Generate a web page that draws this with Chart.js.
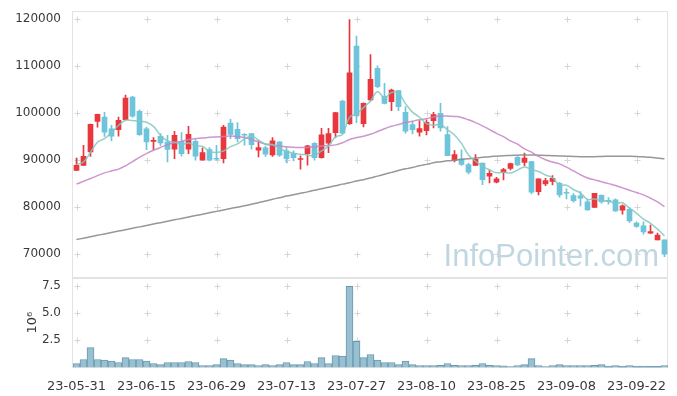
<!DOCTYPE html>
<html>
<head>
<meta charset="utf-8">
<script src="https://cdn.jsdelivr.net/npm/chart.js@4.4.1/dist/chart.umd.min.js"></script>
<style>
  html, body { margin: 0; padding: 0; background: #fff; }
  #wrap { width: 677px; height: 396px; }
</style>
</head>
<body>
<div id="wrap"><canvas id="stockChart"></canvas></div>
<script>
const dates = [
  "23-05-31","23-06-01","23-06-02","23-06-05","23-06-07","23-06-08","23-06-09","23-06-12","23-06-13","23-06-14",
  "23-06-15","23-06-16","23-06-19","23-06-20","23-06-21","23-06-22","23-06-23","23-06-26","23-06-27","23-06-28",
  "23-06-29","23-06-30","23-07-03","23-07-04","23-07-05","23-07-06","23-07-07","23-07-10","23-07-11","23-07-12",
  "23-07-13","23-07-14","23-07-17","23-07-18","23-07-19","23-07-20","23-07-21","23-07-24","23-07-25","23-07-26",
  "23-07-27","23-07-28","23-07-31","23-08-01","23-08-02","23-08-03","23-08-04","23-08-07","23-08-08","23-08-09",
  "23-08-10","23-08-11","23-08-14","23-08-16","23-08-17","23-08-18","23-08-21","23-08-22","23-08-23","23-08-24",
  "23-08-25","23-08-28","23-08-29","23-08-30","23-08-31","23-09-01","23-09-04","23-09-05","23-09-06","23-09-07",
  "23-09-08","23-09-11","23-09-12","23-09-13","23-09-14","23-09-15","23-09-18","23-09-19","23-09-20","23-09-21",
  "23-09-22","23-09-25","23-09-26","23-09-27","23-10-04"
];
const tickLabels = ["23-05-31","23-06-15","23-06-29","23-07-13","23-07-27","23-08-10","23-08-25","23-09-08","23-09-22"];
const priceTicks = [70000, 80000, 90000, 100000, 110000, 120000];
const volumeTicks = [2500000, 5000000, 7500000];

const open = [
  87740, 88800, 91630, 98150, 99070, 96590, 96380, 98500, 103310, 100270,
  96590, 93900, 94960, 93760, 92220, 93920, 92220, 93920, 89890, 92150,
  90240, 90240, 97810, 96470, 95400, 95550, 92000, 92500, 91020, 93780,
  91870, 91300, 90030, 91300, 93500, 90450, 93500, 95760, 102480, 97670,
  114160, 97670, 102700, 109430, 103480, 102350, 104690, 100080, 97470, 95840,
  96190, 98320, 99870, 95340, 89820, 90180, 88970, 88800, 89300, 86470,
  85190, 87310, 88160, 90500, 89440, 89580, 83210, 84840, 85400, 84980,
  83070, 82360, 82290, 81020, 79820, 82430, 81370, 81440, 79250, 79460,
  76490, 75920, 74370, 72950, 72950
];
const high = [
  90360, 93050, 97600, 99700, 100060, 97300, 99070, 103740, 103500, 100620,
  96940, 94680, 95530, 95170, 96040, 95760, 97100, 94270, 92500, 92570,
  93070, 97320, 98590, 97880, 95550, 95600, 93990, 92900, 94700, 93780,
  92580, 91870, 90810, 93070, 93640, 96680, 96680, 100100, 102630, 119820,
  116290, 102100, 112390, 109990, 106240, 105040, 104690, 101290, 98170, 98320,
  98460, 100080, 102000, 97040, 91950, 92090, 89270, 91070, 89300, 87810,
  86250, 88160, 89300, 90640, 91420, 89650, 85900, 86040, 86610, 85190,
  83780, 82800, 83210, 81590, 82860, 82510, 81940, 81660, 80400, 79820,
  76770, 76770, 76070, 74370, 72950
];
const low = [
  87700, 88800, 90710, 96940, 94960, 93970, 95030, 98500, 99000, 95170,
  92130, 92130, 93050, 89510, 90240, 90730, 91300, 89890, 89890, 89740,
  89890, 89320, 94480, 93780, 93070, 92220, 90590, 90700, 90700, 90700,
  89390, 89750, 87980, 88830, 89900, 90300, 91510, 94700, 95500, 97530,
  97880, 96960, 102500, 105300, 101850, 100440, 100440, 95630, 95490, 94990,
  95270, 96760, 96050, 90880, 89500, 88760, 86990, 88800, 84700, 85050,
  85050, 85690, 87810, 88730, 88730, 82710, 82500, 84480, 84620, 82010,
  81650, 80940, 80170, 79250, 79820, 80740, 80520, 79000, 78400, 76630,
  75570, 74150, 74300, 72950, 69340
];
const close = [
  88800, 90710, 97510, 99630, 95880, 95030, 98360, 103100, 99280, 95320,
  93760, 94000, 93550, 92200, 95190, 91300, 95400, 90730, 91510, 89890,
  90100, 96960, 95400, 94480, 95200, 93210, 92570, 91160, 93990, 90950,
  90240, 90450, 90240, 92930, 90450, 95270, 95550, 100010, 95620, 108500,
  99300, 101990, 107080, 105530, 102000, 104830, 101290, 96050, 96410, 96620,
  97960, 99590, 96760, 90880, 91100, 88970, 87350, 90050, 85760, 87100,
  85900, 87880, 89150, 88870, 90360, 83070, 85900, 85550, 86040, 82500,
  82860, 81300, 81800, 79320, 82860, 81020, 81090, 79110, 80170, 76990,
  75780, 74650, 74720, 73940, 69910
];
const volume = [
  370000, 730000, 1830000, 730000, 670000, 580000, 460000, 910000, 730000, 730000,
  580000, 370000, 270000, 460000, 460000, 460000, 550000, 460000, 180000, 180000,
  270000, 820000, 670000, 370000, 270000, 270000, 180000, 270000, 180000, 270000,
  460000, 270000, 270000, 550000, 370000, 910000, 370000, 1100000, 1040000, 7440000,
  2410000, 910000, 1190000, 670000, 460000, 460000, 270000, 580000, 270000, 180000,
  180000, 180000, 200000, 370000, 200000, 180000, 180000, 200000, 370000, 200000,
  180000, 150000, 90000, 180000, 270000, 820000, 180000, 90000, 180000, 270000,
  180000, 180000, 180000, 180000, 200000, 270000, 120000, 180000, 120000, 180000,
  120000, 120000, 100000, 100000, 180000
];
const ma5 = [
  89000, 89500, 91600, 93700, 94500, 95750, 97280, 98400, 98330, 98220,
  97960, 97090, 95180, 93970, 93740, 93250, 93530, 92960, 92830, 91770,
  91530, 91840, 92770, 93370, 94430, 95050, 94170, 93320, 93230, 92380,
  91780, 91360, 91170, 90960, 90860, 91870, 92890, 94840, 95380, 98990,
  99800, 101080, 102500, 104480, 103180, 104290, 104150, 101940, 100120, 99040,
  97670, 97330, 97470, 96360, 95260, 93460, 91010, 89670, 88650, 87850,
  87230, 87340, 87160, 87780, 88430, 87870, 87470, 86750, 86180, 84610,
  84570, 83650, 82900, 81560, 81630, 81260, 81220, 80680, 80850, 79680,
  78630, 77340, 76460, 75220, 73800
];
const ma20 = [
  84800, 85400, 86000, 86600, 87200, 87600, 88000, 88700, 89600, 90500,
  91300, 92000, 92600, 93200, 93600, 93900, 94300, 94500, 94600, 94750,
  94850, 94950, 95050, 94950, 94700, 94300, 93800, 93300, 93100, 92900,
  92750, 92650, 92570, 92600, 92750, 92900, 93000, 93150, 93600, 94300,
  94700, 95000, 95400, 96000, 96600, 97100, 97500, 97900, 98200, 98500,
  98700, 99100, 99300, 99300, 99200, 99000, 98500, 97900, 97200, 96400,
  95600, 94900, 94000, 93300, 92300, 91600, 90700, 90000, 89500, 89100,
  88400, 87600, 86800, 86100, 85700, 85300, 84900, 84500, 84000, 83500,
  83000, 82500, 81800, 81000, 80000
];
const ma120 = [
  73000, 73300, 73600, 73900, 74200, 74500, 74800, 75100, 75400, 75700,
  76000, 76300, 76600, 76900, 77200, 77500, 77800, 78100, 78400, 78700,
  79000, 79300, 79600, 79900, 80200, 80500, 80850, 81200, 81600, 81900,
  82250, 82550, 82850, 83150, 83500, 83800, 84150, 84450, 84800, 85100,
  85450, 85750, 86100, 86500, 86900, 87300, 87700, 88050, 88350, 88700,
  89000, 89350, 89550, 89750, 89900, 90050, 90200, 90350, 90500, 90650,
  90750, 90850, 90900, 90950, 91000, 91000, 90950, 90900, 90850, 90800,
  90750, 90700, 90650, 90650, 90650, 90700, 90720, 90740, 90740, 90720,
  90680, 90600, 90500, 90350, 90200
];

const UP = "#e8383d";
const DOWN = "#6ec4da";
const candleColors = close.map((c, i) => (c >= open[i] ? UP : DOWN));

// grid "+" marks, panel frames and the watermark
const decor = {
  id: "decor",
  beforeDatasetsDraw(chart) {
    const { ctx, chartArea } = chart;
    const xs = chart.scales.x, ys = chart.scales.y, yv = chart.scales.yv;
    ctx.save();

    ctx.font = '31px "Liberation Sans", Arial, sans-serif';
    ctx.fillStyle = "rgba(165,198,214,0.7)";
    ctx.textAlign = "right";
    ctx.textBaseline = "alphabetic";
    ctx.fillText("InfoPointer.com", chartArea.right - 9, ys.bottom - 12);

    ctx.strokeStyle = "#e3e3e3";
    ctx.lineWidth = 1;
    [ys, yv].forEach((s) => {
      const t = Math.round(s.top) + 0.5, b = Math.round(s.bottom) - 0.5;
      ctx.strokeRect(chartArea.left - 0.5, t, chartArea.right - chartArea.left, b - t);
    });

    ctx.strokeStyle = "#d6d6d6";
    const xPix = [];
    dates.forEach((d, i) => { if (tickLabels.includes(d)) xPix.push(Math.round(xs.getPixelForValue(i)) + 0.5); });
    [ys, yv].forEach((s) => {
      s.ticks.forEach((t) => {
        const py = Math.round(s.getPixelForValue(t.value)) + 0.5;
        xPix.forEach((px) => {
          ctx.beginPath();
          ctx.moveTo(px - 3, py); ctx.lineTo(px + 3, py);
          ctx.moveTo(px, py - 3); ctx.lineTo(px, py + 3);
          ctx.stroke();
        });
      });
    });
    ctx.restore();
  }
};

const tickFont = { family: "DejaVu Sans", size: 12 };

new Chart(document.getElementById("stockChart"), {
  type: "bar",
  data: {
    labels: dates,
    datasets: [
      { type: "line", label: "MA5", data: ma5, yAxisID: "y", borderColor: "rgba(128,200,190,0.85)", borderWidth: 1.5, pointRadius: 0, tension: 0.4, order: 0 },
      { type: "line", label: "MA20", data: ma20, yAxisID: "y", borderColor: "rgba(198,132,198,0.85)", borderWidth: 1.5, pointRadius: 0, tension: 0.4, order: 0 },
      { type: "line", label: "MA120", data: ma120, yAxisID: "y", borderColor: "rgba(140,140,140,0.9)", borderWidth: 1.5, pointRadius: 0, tension: 0.4, order: 0 },
      { label: "body", data: open.map((o, i) => [o, close[i]]), yAxisID: "y", backgroundColor: candleColors, barThickness: 5, minBarLength: 1, grouped: false, order: 1 },
      { label: "wick", data: low.map((l, i) => [l, high[i]]), yAxisID: "y", backgroundColor: candleColors, barThickness: 1, grouped: false, order: 2 },
      { label: "volume", data: volume, yAxisID: "yv", backgroundColor: "#98c0d1", borderColor: "#6898b0", borderWidth: 1, barPercentage: 1, categoryPercentage: 1, grouped: false, order: 3 }
    ]
  },
  options: {
    responsive: true,
    maintainAspectRatio: false,
    animation: false,
    layout: { padding: { top: 10, right: 9, left: 0, bottom: 0 } },
    plugins: { legend: { display: false }, tooltip: { enabled: false } },
    scales: {
      x: {
        offset: true,
        grid: { display: false },
        border: { display: false },
        ticks: {
          autoSkip: false, maxRotation: 0, padding: 3, color: "#3a3a3a",
          font: { family: "DejaVu Sans", size: 13 },
          callback: (v, i) => (tickLabels.includes(dates[i]) ? dates[i] : "")
        },
        afterFit: (s) => { s.height = 28.5; }
      },
      y: {
        position: "left", stack: "panes", stackWeight: 2.977, weight: 1,
        min: 64840, max: 121600,
        grid: { display: false },
        border: { display: false },
        ticks: { padding: 4, color: "#3a3a3a", font: tickFont, autoSkip: false, callback: (v) => String(v) },
        afterBuildTicks: (s) => { s.ticks = priceTicks.map((v) => ({ value: v })); },
        afterFit: (s) => { s.width = 73; }
      },
      yv: {
        position: "left", stack: "panes", stackWeight: 1, weight: 0,
        min: 0, max: 8220000,
        grid: { display: false },
        border: { display: false },
        ticks: { padding: 4, color: "#3a3a3a", font: tickFont, autoSkip: false, callback: (v) => (v / 1e6).toFixed(1) },
        afterBuildTicks: (s) => { s.ticks = volumeTicks.map((v) => ({ value: v })); },
        title: { display: true, text: "10⁶", color: "#3a3a3a", font: { family: "DejaVu Sans", size: 13 }, padding: { top: 25, bottom: 0 } },
        afterFit: (s) => { s.width = 73; }
      }
    }
  },
  plugins: [decor]
});
</script>
</body>
</html>
